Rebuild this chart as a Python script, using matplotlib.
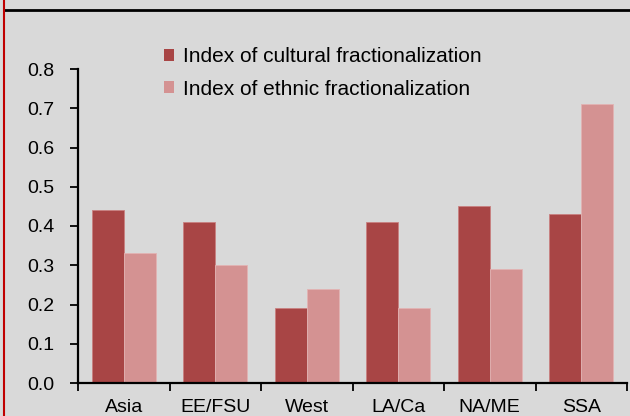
import matplotlib
matplotlib.use("Agg")
import matplotlib.pyplot as plt
from matplotlib.lines import Line2D
import numpy as np

plt.rcParams['font.family'] = ['Liberation Sans', 'DejaVu Sans']

categories = ["Asia", "EE/FSU", "West", "LA/Ca", "NA/ME", "SSA"]
cultural = [0.44, 0.41, 0.19, 0.41, 0.45, 0.43]
ethnic = [0.33, 0.30, 0.24, 0.19, 0.29, 0.71]
series_labels = ["Index of cultural fractionalization", "Index of ethnic fractionalization"]
yticks = [0.0, 0.1, 0.2, 0.3, 0.4, 0.5, 0.6, 0.7, 0.8]

bg = "#D9D9D9"
c1 = "#A84545"
c2 = "#D49292"

W, H = 630, 416
fig = plt.figure(figsize=(W/100, H/100), dpi=100, facecolor=bg)
ax = fig.add_axes([78/W, 1-383/H, (627-78)/W, (383-69)/H], facecolor=bg)

x = np.arange(len(categories))
bw = 0.35
ax.bar(x - bw/2, cultural, bw, color=c1, edgecolor="#C98080", linewidth=0.6, label=series_labels[0])
ax.bar(x + bw/2, ethnic, bw, color=c2, edgecolor="#E2B3B3", linewidth=0.6, label=series_labels[1])

ax.set_xlim(-0.5, len(categories) - 0.5)
ax.set_ylim(0, 0.8)
ax.set_yticks(yticks)
ax.set_yticklabels([f"{v:.1f}" for v in yticks])
ax.set_xticks(np.arange(len(categories) + 1) - 0.5)
ax.set_xticklabels([])
ax.set_xticks(x, minor=True)
ax.set_xticklabels(categories, minor=True)
ax.tick_params(axis='x', which='minor', length=0, pad=11.5, labelsize=14)
ax.tick_params(axis='x', which='major', length=6, width=1.3, direction='out')
ax.tick_params(axis='y', length=6, width=1.3, direction='out', pad=11, labelsize=14)

for s in ['top', 'right']:
    ax.spines[s].set_visible(False)
for s in ['left', 'bottom']:
    ax.spines[s].set_linewidth(1.6)
    ax.spines[s].set_color('black')

leg = ax.legend(loc='upper left', bbox_to_anchor=(164/W, 1-47/H), bbox_transform=fig.transFigure,
                frameon=False, fontsize=15, handlelength=0.5, handleheight=0.5,
                handletextpad=0.4, labelspacing=0.65, borderaxespad=0, borderpad=0)
for h in leg.legend_handles:
    h.set_linewidth(0)

fig.add_artist(Line2D([5/W, 1], [1-10/H, 1-10/H], transform=fig.transFigure, color='black', linewidth=2))
fig.add_artist(Line2D([4/W, 4/W], [0, 1], transform=fig.transFigure, color='#C00000', linewidth=1.5))

fig.savefig("out.png", dpi=100, facecolor=bg)
